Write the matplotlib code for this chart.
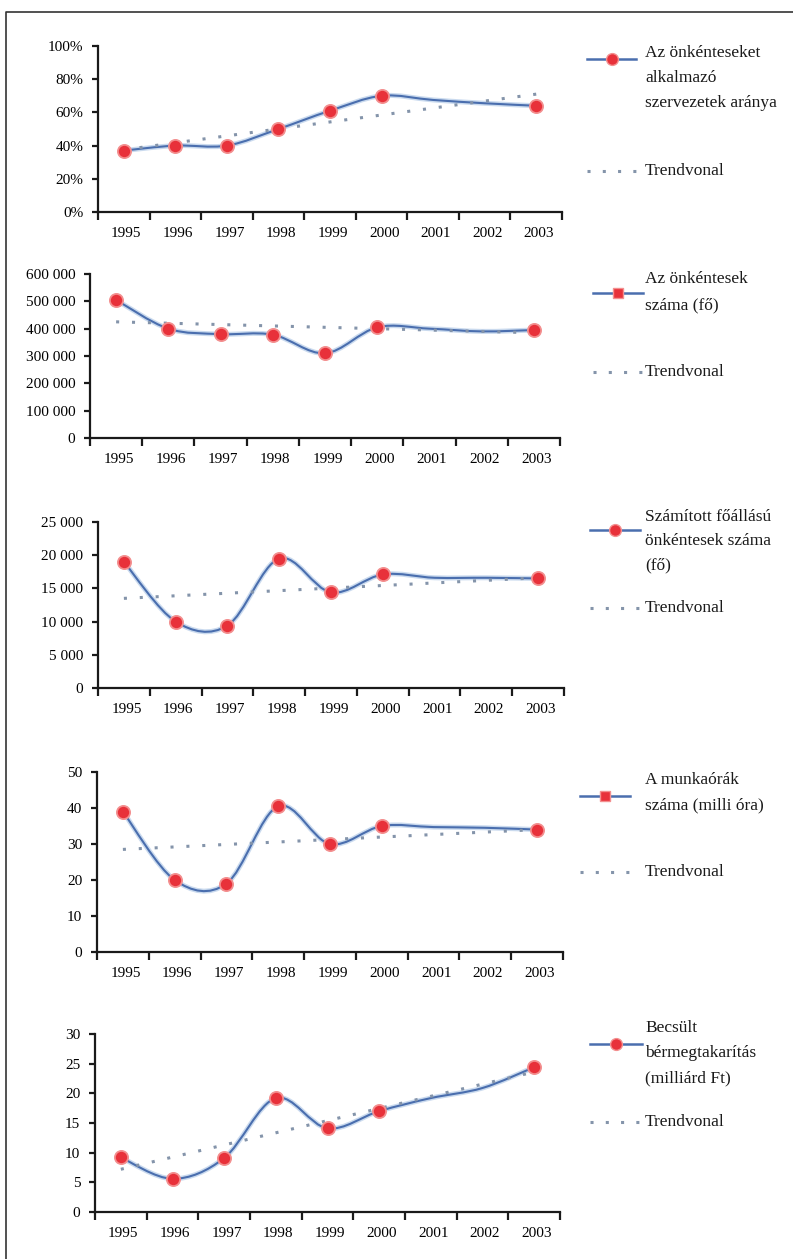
"""
Önkéntesség 1995-2003: five stacked line charts with trend lines.
Saved to out.png (793x1259 px).
"""
import numpy as np
import matplotlib
matplotlib.use('Agg')
import matplotlib.pyplot as plt
from matplotlib.path import Path
from matplotlib.patches import PathPatch
from matplotlib.lines import Line2D

W, H = 793, 1259
FONT = 'Liberation Serif'
C = {'blue': '#4a6eae', 'glow': '#b4cbe8', 'red': '#e8313a', 'halo': '#f38f8f',
     'trend': '#8494aa', 'axis': '#1a1a1a', 'frame': '#333333'}
plt.rcParams.update({'font.family': FONT, 'font.size': 11, 'axes.linewidth': 1.6})

# ---- data ----
years = ['1995', '1996', '1997', '1998', '1999', '2000', '2001', '2002', '2003']
marked = [True, True, True, True, True, True, False, False, True]

share = [37, 40, 40, 50, 61, 70, 67.5, 65.5, 64]
volunteers = [505000, 400000, 380000, 378000, 310000, 405000, 400000, 390000, 395000]
fte = [19000, 10000, 9400, 19500, 14400, 17100, 16600, 16600, 16500]
hours = [39, 20, 19, 40.5, 30, 35, 34.7, 34.5, 34]
savings = [9.2, 5.6, 9.1, 19.2, 14.1, 17.0, 19.2, 20.9, 24.4]

# trend lines: value at 1995, value at 2003
trend_share = [37.5, 71]
trend_volunteers = [425000, 385000]
trend_fte = [13500, 16600]
trend_hours = [28.5, 34]
trend_savings = [7.2, 23.6]

labels = [['Az önkénteseket', 'alkalmazó', 'szervezetek aránya'],
          ['Az önkéntesek', 'száma (fő)'],
          ['Számított főállású', 'önkéntesek száma', '(fő)'],
          ['A munkaórák', 'száma (milli óra)'],
          ['Becsült', 'bérmegtakarítás', '(milliárd Ft)']]
trend_label = 'Trendvonal'

# ---- layout (pixel positions) ----
panels = [
    dict(v=share, tr=trend_share, ymax=100, step=20, pct=True,
         box=(98, 46, 562, 212), leg=(587, 636, 59), mk='o', txt=(53, 25), ty=171),
    dict(v=volunteers, tr=trend_volunteers, ymax=600000, step=100000, pct=False,
         box=(90, 274, 560, 438), leg=(593, 643, 293), mk='s', txt=(279, 26), ty=372),
    dict(v=fte, tr=trend_fte, ymax=25000, step=5000, pct=False,
         box=(98, 522, 564, 688), leg=(590, 640, 530), mk='o', txt=(517, 24), ty=608),
    dict(v=hours, tr=trend_hours, ymax=50, step=10, pct=False,
         box=(97, 772, 563, 952), leg=(580, 630, 796), mk='s', txt=(780, 25), ty=872),
    dict(v=savings, tr=trend_savings, ymax=30, step=5, pct=False,
         box=(95, 1034, 560, 1212), leg=(590, 642, 1044), mk='o', txt=(1028, 25), ty=1122),
]


def fx(x): return x / W
def fy(y): return 1 - y / H


def smooth(x, y, t=1/6):
    # Excel-like smoothed line as cubic Bezier segments
    verts = [(x[0], y[0])]; codes = [Path.MOVETO]
    n = len(x)
    for i in range(n - 1):
        xa, ya = (x[i-1], y[i-1]) if i > 0 else (x[i], y[i])
        xd, yd = (x[i+2], y[i+2]) if i + 2 < n else (x[i+1], y[i+1])
        c1 = (x[i] + (x[i+1] - xa) * t, y[i] + (y[i+1] - ya) * t)
        c2 = (x[i+1] - (xd - x[i]) * t, y[i+1] - (yd - y[i]) * t)
        verts += [c1, c2, (x[i+1], y[i+1])]; codes += [Path.CURVE4] * 3
    return Path(verts, codes)


def fmt(v, pct):
    return f'{v:.0f}%' if pct else f'{v:,.0f}'.replace(',', ' ')


fig = plt.figure(figsize=(W / 100, H / 100), dpi=100)
xc = np.arange(len(years)) + 0.5

for p, lab in zip(panels, labels):
    l, t, r, b = p['box']
    ax = fig.add_axes([fx(l), fy(b), (r - l) / W, (b - t) / H])
    vals = np.array(p['v'], dtype=float)
    ax.add_patch(PathPatch(smooth(xc, vals), fill=False, ec=C['glow'], lw=3.6, alpha=0.7, zorder=2))
    ax.add_patch(PathPatch(smooth(xc, vals), fill=False, ec=C['blue'], lw=1.5, zorder=3))
    ax.plot([xc[0], xc[-1]], p['tr'], color=C['trend'], lw=2.2, ls=(0, (1, 4.2)), zorder=4)
    m = np.array(marked)
    ax.plot(xc[m], vals[m], ls='none', marker='o', ms=9.5, mfc=C['red'], mec=C['halo'], mew=1.3, zorder=5)

    ax.set_xlim(0, len(years)); ax.set_ylim(0, p['ymax'])
    for s in ['top', 'right']: ax.spines[s].set_visible(False)
    for s in ['left', 'bottom']: ax.spines[s].set_color(C['axis'])
    ax.set_xticks(np.arange(len(years) + 1)); ax.set_xticklabels([])
    ax.set_xticks(xc + 0.05, minor=True); ax.set_xticklabels(years, minor=True)
    ax.tick_params(axis='x', which='major', direction='out', length=6, width=1.6, color=C['axis'])
    ax.tick_params(axis='x', which='minor', length=0, pad=11, labelsize=11)
    yt = np.arange(0, p['ymax'] + p['step'] / 2, p['step'])
    ax.set_yticks(yt); ax.set_yticklabels([fmt(v, p['pct']) for v in yt])
    ax.tick_params(axis='y', direction='out', length=4.5, width=1.6, pad=6, labelsize=11, color=C['axis'])
    ax.patch.set_alpha(0)

    # legend drawn by hand to match the free-floating layout
    x0, x1, ly = p['leg']
    fig.add_artist(Line2D([fx(x0), fx(x1)], [fy(ly), fy(ly)], color=C['blue'], lw=1.8))
    fig.add_artist(Line2D([fx((x0 + x1) / 2)], [fy(ly)], marker=p['mk'], ms=8.5 if p['mk'] == 'o' else 7.5,
                          mfc=C['red'], mec=C['halo'], mew=1, ls='none'))
    ty0, dy = p['txt']
    for i, s in enumerate(lab):
        fig.text(fx(645), fy(ty0 + i * dy), s, fontsize=12.5, va='center', ha='left', color='#1a1a1a')
    fig.add_artist(Line2D([fx(x0), fx(x1)], [fy(p['ty']), fy(p['ty'])], color=C['trend'],
                          lw=2.2, ls=(0, (1, 4.0))))
    fig.text(fx(645), fy(p['ty']), trend_label, fontsize=12.5, va='center', ha='left', color='#1a1a1a')

# page frame (top and left edges visible)
fig.add_artist(Line2D([fx(6), fx(6), fx(W + 5)], [fy(H + 5), fy(12), fy(12)], color=C['frame'], lw=1.2))

plt.savefig('out.png', dpi=100, facecolor='white')
